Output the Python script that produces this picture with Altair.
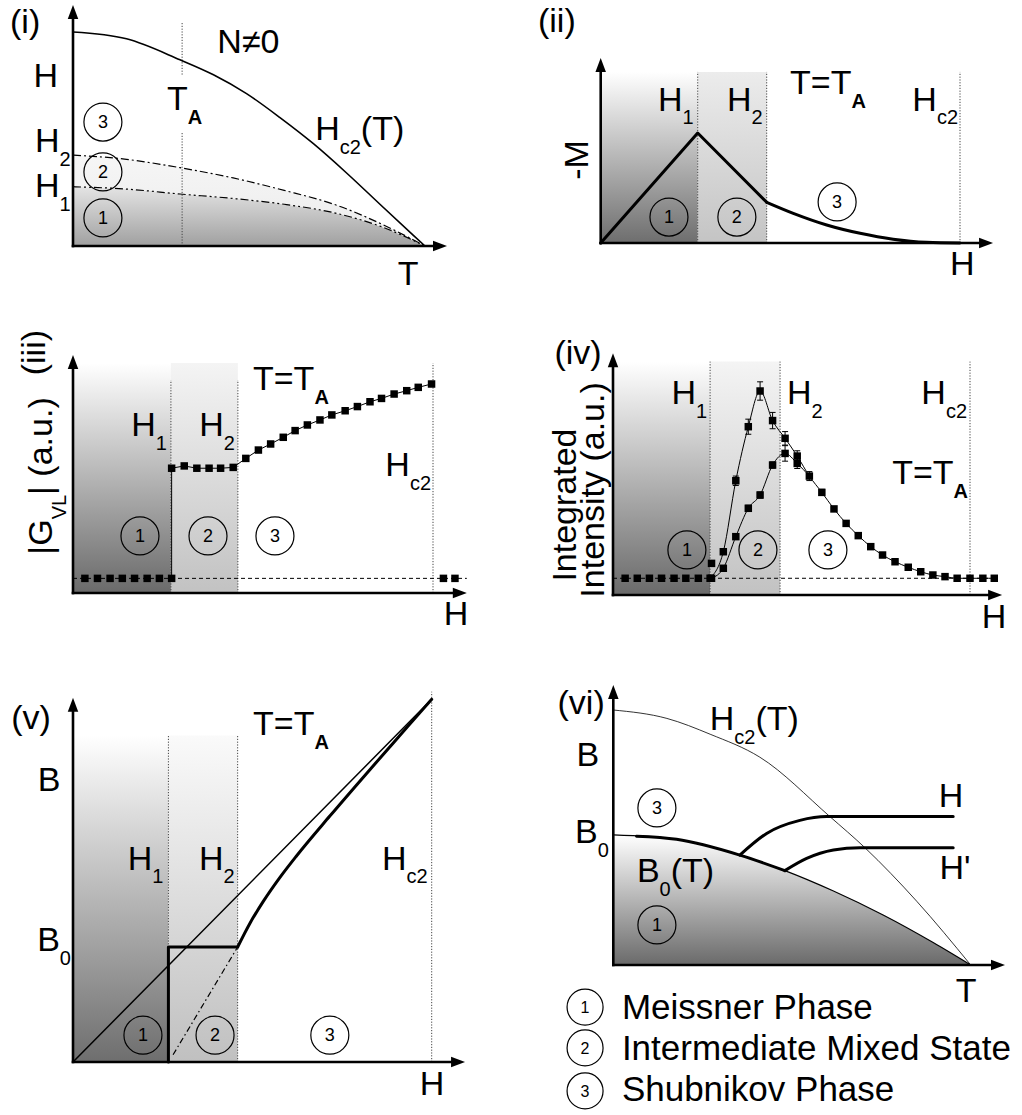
import altair as alt
import pandas as pd

FONT = "Liberation Sans"
BIG = 34      # annotation size
SUB = 20      # subscript size
NUM = 18      # digits inside the phase circles
INK = "black"
DOT = [1.2, 1.6]

# ---------------- (i) H-T diagram of a sample with N != 0 ----------------
T_I = [0.0, 0.152, 0.304, 0.455, 0.600, 0.750, 0.880, 1.0]
H1_I = [0.277, 0.266, 0.243, 0.222, 0.195, 0.152, 0.088, 0.0]
H2_I = [0.425, 0.405, 0.366, 0.318, 0.260, 0.190, 0.100, 0.0]
T_HC2_I = [0.0, 0.152, 0.304, 0.399, 0.493, 0.588, 0.683, 0.778, 0.872, 0.967, 1.0]
HC2_I = [1.0, 0.968, 0.870, 0.800, 0.712, 0.600, 0.478, 0.340, 0.195, 0.050, 0.0]
T_A = 0.31

# ---------------- (ii) magnetisation -M(H) at T = T_A ----------------
FIELDS_II = [0.270, 0.462, 1.0]          # H1, H2, Hc2
M_RAMP_H = [0.0, 0.270, 0.462]
M_RAMP = [0.0, 1.0, 0.37]
M_TAIL_H = [0.462, 0.536, 0.629, 0.722, 0.814, 0.907, 1.0]
M_TAIL = [0.37, 0.27, 0.164, 0.088, 0.034, 0.006, 0.0]

# ---------------- (iii) |G_VL|(H) at T = T_A ----------------
FIELDS_III = [0.272, 0.458, 1.0]
G_ZERO_H = [0.033, 0.068, 0.103, 0.137, 0.171, 0.206, 0.240, 0.274, 1.029, 1.061]
G_ZERO = 0.070
G_H = [0.274, 0.309, 0.344, 0.378, 0.410, 0.445, 0.480, 0.515, 0.549, 0.584, 0.617,
       0.651, 0.686, 0.719, 0.756, 0.790, 0.825, 0.857, 0.892, 0.927, 0.959, 0.996]
G_VL = [0.597, 0.608, 0.597, 0.597, 0.597, 0.601, 0.644, 0.684, 0.713, 0.745, 0.777,
        0.804, 0.828, 0.852, 0.872, 0.892, 0.915, 0.931, 0.952, 0.968, 0.984, 1.0]

# ---------------- (iv) integrated intensity at T = T_A ----------------
FIELDS_IV = [0.272, 0.468, 1.0]
I_ZERO_H = [0.034, 0.068, 0.102, 0.136, 0.171, 0.204, 0.239, 0.272]
I_ZERO = 0.082
IA_H = [0.276, 0.309, 0.344, 0.379, 0.412, 0.447, 0.482, 0.516, 0.550, 0.585, 0.619, 0.653,
        0.687, 0.722, 0.755, 0.790, 0.827, 0.862, 0.896, 0.930, 0.964, 1.0, 1.036, 1.068]
IA = [0.155, 0.212, 0.560, 0.825, 1.0, 0.855, 0.768, 0.681, 0.583, 0.503, 0.422, 0.351,
      0.291, 0.237, 0.196, 0.163, 0.136, 0.114, 0.098, 0.090, 0.082, 0.082, 0.082, 0.082]
IA_ERR = [0.0, 0.0, 0.023, 0.037, 0.045, 0.040, 0.033, 0.026, 0.022, 0.015, 0.0, 0.0,
          0.0, 0.0, 0.0, 0.0, 0.0, 0.0, 0.0, 0.0, 0.0, 0.0, 0.0, 0.0]
IB_H = [0.276, 0.309, 0.344, 0.379, 0.412, 0.447, 0.482, 0.516]
IB = [0.082, 0.131, 0.286, 0.425, 0.490, 0.637, 0.694, 0.645]
IB_ERR = [0.0, 0.0, 0.0, 0.015, 0.015, 0.015, 0.038, 0.025]

# ---------------- (v) B(H) at T = T_A ----------------
FIELDS_V = [0.266, 0.459, 1.0]
B0_V = 0.317
B_CURVE_H = [0.459, 0.493, 0.530, 0.577, 0.623, 0.716, 0.810, 0.902, 0.960, 1.0]
B_CURVE = [0.317, 0.382, 0.442, 0.509, 0.568, 0.678, 0.786, 0.890, 0.955, 1.0]

# ---------------- (vi) B-T diagram ----------------
T_HC2_VI = [0.0, 0.150, 0.271, 0.410, 0.606, 0.704, 0.849, 1.0]
HC2_VI = [1.0, 0.967, 0.905, 0.815, 0.582, 0.460, 0.250, 0.0]
T_B0_VI = [0.0, 0.177, 0.354, 0.480, 0.616, 0.755, 0.895, 1.0]
B0_VI = [0.510, 0.493, 0.431, 0.370, 0.290, 0.196, 0.088, 0.0]
EDGE_T = [0.065, 0.177, 0.354, 0.480]
EDGE_B = [0.505, 0.493, 0.431, 0.370]
PATH_H_T = [0.354, 0.429, 0.522, 0.597, 0.951]
PATH_H_B = [0.431, 0.516, 0.567, 0.582, 0.582]
PATH_HP_T = [0.480, 0.541, 0.616, 0.690, 0.951]
PATH_HP_B = [0.370, 0.418, 0.451, 0.460, 0.460]

LEGEND = ["Meissner Phase", "Intermediate Mixed State", "Shubnikov Phase"]

# advance widths (em) of the sans-serif face, used to chain subscripts
WIDTH = {"H": .722, "T": .611, "B": .667, "G": .778, "M": .833, "N": .722, "I": .278,
         "S": .667, "P": .667, "A": .667, "V": .667, "L": .556, "(": .333, ")": .333,
         "=": .584, "-": .333, "|": .26, " ": .278, ".": .278, "'": .191, "\u2260": .584,
         "i": .222, "l": .222, "t": .278, "r": .333, "f": .278, "m": .833, "s": .5,
         "c": .5, "k": .5, "v": .5, "x": .5, "y": .5}

UP = "M0,0L0.75,2L-0.75,2Z"
RIGHT = "M0,0L-2,-0.75L-2,0.75Z"


def text_width(s, size):
    return sum(WIDTH.get(ch, 0.556) for ch in s) * size


def grad(dark, light):
    return alt.LinearGradient(
        gradient="linear",
        stops=[alt.GradientStop(color=dark, offset=0), alt.GradientStop(color=light, offset=1)],
        x1=0, x2=0, y1=1, y2=0,
    )


class Panel:
    """One schematic plot: origin at (ox, oy) px inside a width x height box."""

    def __init__(self, width, height, ox, oy, sx, sy):
        self.width, self.height = width, height
        self.sx, self.sy = sx, sy
        self.xs = alt.Scale(domain=[-ox / sx, (width - ox) / sx], nice=False, zero=False)
        self.ys = alt.Scale(domain=[-(height - oy) / sy, oy / sy], nice=False, zero=False)
        self.layers = []

    def X(self, f):
        return alt.X(f, type="quantitative", scale=self.xs, axis=None)

    def Y(self, f):
        return alt.Y(f, type="quantitative", scale=self.ys, axis=None)

    def line(self, xs, ys, width=1.0, dash=None, interp="linear"):
        df = pd.DataFrame({"x": xs, "y": ys, "i": list(range(len(xs)))})
        kw = dict(color=INK, strokeWidth=width, interpolate=interp, strokeJoin="round",
                  strokeCap="round")
        if dash:
            kw["strokeDash"] = dash
            kw["strokeCap"] = "butt"
        self.layers.append(alt.Chart(df).mark_line(**kw).encode(
            x=self.X("x"), y=self.Y("y"), order=alt.Order("i:Q")))

    def segs(self, x, y, x2, y2, width=1.0, dash=None, color=INK, cap="butt"):
        df = pd.DataFrame({"x": x, "y": y, "x2": x2, "y2": y2})
        kw = dict(color=color, strokeWidth=width, strokeCap=cap)
        if dash:
            kw["strokeDash"] = dash
        self.layers.append(alt.Chart(df).mark_rule(**kw).encode(
            x=self.X("x"), y=self.Y("y"), x2="x2:Q", y2="y2:Q"))

    def dotted(self, xs, tops):
        self.segs(xs, [0.0] * len(xs), xs, tops, width=1.0, dash=DOT, color="#444444")

    def shade(self, x0, x1, y0, y1, dark, light):
        df = pd.DataFrame({"x": [x0], "x2": [x1], "y": [y0], "y2": [y1]})
        self.layers.append(alt.Chart(df).mark_rect(fill=grad(dark, light), strokeWidth=0).encode(
            x=self.X("x"), x2="x2:Q", y=self.Y("y"), y2="y2:Q"))

    def band(self, xs, lo, hi, dark, light, interp="monotone"):
        df = pd.DataFrame({"x": xs, "lo": lo, "hi": hi})
        self.layers.append(alt.Chart(df).mark_area(fill=grad(dark, light), interpolate=interp).encode(
            x=self.X("x"), y=self.Y("hi"), y2="lo:Q"))

    def squares(self, xs, ys, size=56):
        df = pd.DataFrame({"x": xs, "y": ys})
        self.layers.append(alt.Chart(df).mark_point(
            shape="square", filled=True, size=size, color=INK, opacity=1).encode(
            x=self.X("x"), y=self.Y("y")))

    def errorbars(self, xs, ys, errs):
        rows = [(x, y, e) for x, y, e in zip(xs, ys, errs) if e > 0]
        df = pd.DataFrame({"x": [r[0] for r in rows],
                           "lo": [r[1] - r[2] for r in rows],
                           "hi": [r[1] + r[2] for r in rows]})
        self.layers.append(alt.Chart(df).mark_rule(color=INK, strokeWidth=1).encode(
            x=self.X("x"), y=self.Y("lo"), y2="hi:Q"))
        for end in ("lo", "hi"):
            self.layers.append(alt.Chart(df).mark_tick(
                orient="horizontal", size=6, thickness=1, color=INK, opacity=1).encode(
                x=self.X("x"), y=self.Y(end)))

    def axes(self, x_tip, y_tip):
        self.segs([0.0, 0.0], [0.0, 0.0], [x_tip - 12 / self.sx, 0.0], [0.0, y_tip - 12 / self.sy],
                  width=2.6, cap="square")
        for shape, x, y in ((RIGHT, x_tip, 0.0), (UP, 0.0, y_tip)):
            df = pd.DataFrame({"x": [x], "y": [y]})
            self.layers.append(alt.Chart(df).mark_point(
                shape=shape, size=196, filled=True, color=INK, opacity=1, strokeWidth=0).encode(
                x=self.X("x"), y=self.Y("y")))

    def text(self, x, y, base, sub="", tail="", size=BIG, align="left", angle=0, dx=0,
             bold_sub=False):
        wb = text_width(base, size)
        ws = text_width(sub, SUB) * (1.08 if bold_sub else 1.0)
        wt = text_width(tail, size)
        total = wb + ws + wt
        start = dx + {"left": 0.0, "center": -total / 2, "right": -total}[align]
        drop = 0.40 * size + 0.30 * size - 0.30 * SUB
        parts = [(base, size, start, 0.0, "normal")]
        if sub:
            parts.append((sub, SUB, start + wb, drop, "bold" if bold_sub else "normal"))
        if tail:
            parts.append((tail, size, start + wb + ws, 0.0, "normal"))
        for t, sz, ddx, ddy, weight in parts:
            kw = dict(align="left", baseline="middle", dx=ddx, dy=ddy, font=FONT,
                      fontSize=sz, fontWeight=weight, color=INK)
            if angle:
                kw["angle"] = angle
            df = pd.DataFrame({"x": [x], "y": [y], "t": [t]})
            self.layers.append(alt.Chart(df).mark_text(**kw).encode(
                x=self.X("x"), y=self.Y("y"), text="t:N"))

    def rings(self, xs, ys, digits, diameter=38, fsize=NUM):
        df = pd.DataFrame({"x": xs, "y": ys, "t": digits})
        self.layers.append(alt.Chart(df).mark_point(
            shape="circle", size=diameter ** 2, filled=False, color=INK, strokeWidth=1.2,
            opacity=1).encode(x=self.X("x"), y=self.Y("y")))
        self.layers.append(alt.Chart(df).mark_text(
            font=FONT, fontSize=fsize, align="center", baseline="middle", dy=1, color=INK).encode(
            x=self.X("x"), y=self.Y("y"), text="t:N"))

    def chart(self):
        return alt.layer(*self.layers).properties(width=self.width, height=self.height)


# ---- (i) ----
p1 = Panel(511, 300, 73, 246, 352, 214)
p1.band(T_I, [0.0] * len(T_I), H1_I, "#a0a0a0", "#e4e4e4")
p1.band(T_I, H1_I, H2_I, "#ebebeb", "#f6f6f6")
p1.segs([T_A, T_A], [1.042, 0.528], [T_A, T_A], [0.799, 0.0], width=1.0, dash=DOT, color="#444444")
p1.line(T_I, H2_I, width=1.2, dash=[8, 3, 2, 3], interp="monotone")
p1.line(T_I, H1_I, width=1.2, dash=[8, 3, 2, 3, 2, 3], interp="monotone")
p1.line(T_HC2_I, HC2_I, width=1.6, interp="monotone")
p1.axes(1.0625, 1.126)
p1.text(-0.136, 1.042, "(i)", align="center")
p1.text(0.5, 0.949, "N\u22600", align="center")
p1.text(-0.077, 0.790, "H", align="center")
p1.text(-0.108, 0.486, "H", "2")
p1.text(-0.108, 0.277, "H", "1")
p1.text(0.267, 0.682, "T", "A", bold_sub=True)
p1.text(0.688, 0.542, "H", "c2", "(T)")
p1.text(0.952, -0.136, "T", align="center")
p1.rings([0.085] * 3, [0.579, 0.346, 0.131], ["3", "2", "1"])

# ---- (ii) ----
p2 = Panel(511, 300, 89.7, 243, 359.3, 110)
p2.shade(0.0, FIELDS_II[0], 0.0, 1.555, "#6e6e6e", "#ffffff")
p2.shade(FIELDS_II[0], FIELDS_II[1], 0.0, 1.555, "#c4c4c4", "#ececec")
p2.dotted(FIELDS_II, [1.555] * 3)
p2.line(M_RAMP_H, M_RAMP, width=3)
p2.line(M_TAIL_H, M_TAIL, width=3, interp="monotone")
p2.axes(1.092, 1.682)
p2.text(-0.122, 2.009, "(ii)", align="center")
p2.text(-0.063, 0.755, "-M", align="center", angle=270)
p2.text(FIELDS_II[0], 1.295, "H", "1", align="right", dx=-4)
p2.text(FIELDS_II[1], 1.295, "H", "2", align="right", dx=-4)
p2.text(FIELDS_II[2], 1.295, "H", "c2", align="right", dx=-2)
p2.text(0.527, 1.441, "T=T", "A", bold_sub=True)
p2.text(1.006, -0.200, "H", align="center")
p2.rings([0.190, 0.379, 0.658], [0.236, 0.236, 0.373], ["1", "2", "3"])

# ---- (iii) ----
p3 = Panel(511, 350, 73, 293, 360, 209)
p3.shade(0.0, FIELDS_III[0], 0.0, 1.10, "#6a6a6a", "#ffffff")
p3.shade(FIELDS_III[0], FIELDS_III[1], 0.0, 1.10, "#c2c2c2", "#f4f4f4")
p3.dotted(FIELDS_III, [1.019, 1.019, 1.10])
p3.segs([0.0], [G_ZERO], [1.094], [G_ZERO], width=1.0, dash=[4, 3])
p3.segs([G_H[0]], [G_ZERO], [G_H[0]], [G_VL[0]], width=1.0)
p3.line(G_H, G_VL, width=1.0)
p3.squares(G_ZERO_H, [G_ZERO] * len(G_ZERO_H))
p3.squares(G_H, G_VL)
p3.axes(1.094, 1.139)
p3.text(-0.106, 1.150, "(iii)", align="center", angle=270)
p3.text(-0.086, 0.560, "|G", "VL", "| (a.u.)", align="center", angle=270)
p3.text(FIELDS_III[0], 0.797, "H", "1", align="right", dx=-4)
p3.text(FIELDS_III[1], 0.797, "H", "2", align="right", dx=-3)
p3.text(0.5, 1.017, "T=T", "A", bold_sub=True)
p3.text(FIELDS_III[2], 0.608, "H", "c2", align="right", dx=-2)
p3.text(1.064, -0.105, "H", align="center")
p3.rings([0.186, 0.375, 0.561], [0.273] * 3, ["1", "2", "3"])

# ---- (iv) ----
p4 = Panel(511, 350, 102, 295, 357, 204)
p4.shade(0.0, FIELDS_IV[0], 0.0, 1.144, "#6a6a6a", "#ffffff")
p4.shade(FIELDS_IV[0], FIELDS_IV[1], 0.0, 1.144, "#c2c2c2", "#f4f4f4")
p4.dotted(FIELDS_IV, [1.144] * 3)
p4.segs([0.0], [I_ZERO], [1.078], [I_ZERO], width=1.0, dash=[4, 3])
p4.line([I_ZERO_H[-1]] + IA_H[1:], [I_ZERO] + IA[1:], width=1.0, interp="monotone")
p4.line(IB_H + [IA_H[8]], IB + [IA[8]], width=1.0, interp="monotone")
p4.errorbars(IA_H, IA, IA_ERR)
p4.errorbars(IB_H, IB, IB_ERR)
p4.squares(I_ZERO_H, [I_ZERO] * len(I_ZERO_H))
p4.squares(IA_H, IA)
p4.squares(IB_H, IB)
p4.axes(1.090, 1.185)
p4.text(-0.098, 1.181, "(iv)", align="center")
p4.text(-0.132, 0.441, "Integrated", align="center", angle=270)
p4.text(-0.053, 0.515, "Intensity (a.u.)", align="center", angle=270)
p4.text(FIELDS_IV[0], 0.985, "H", "1", align="right", dx=-3)
p4.text(FIELDS_IV[1], 0.985, "H", "2", align="left", dx=7)
p4.text(FIELDS_IV[2], 0.985, "H", "c2", align="right", dx=-3)
p4.text(FIELDS_IV[2], 0.591, "T=T", "A", align="right", dx=-2, bold_sub=True)
p4.text(1.067, -0.113, "H", align="center")
p4.rings([0.207, 0.406, 0.602], [0.221] * 3, ["1", "2", "3"])

# ---- (v) ----
p5 = Panel(511, 465, 73, 412, 358.7, 362.7)
p5.shade(0.0, FIELDS_V[0], 0.0, 0.90, "#6e6e6e", "#ffffff")
p5.shade(FIELDS_V[0], FIELDS_V[1], 0.0, 0.90, "#c0c0c0", "#fafafa")
p5.dotted(FIELDS_V, [0.901, 0.901, 1.021])
p5.line([0.0, 1.0], [0.0, 1.0], width=1.5)
p5.segs([0.279], [0.02], [FIELDS_V[1]], [B0_V], width=1.2, dash=[6, 3, 1.5, 3])
p5.line([FIELDS_V[0], FIELDS_V[0], FIELDS_V[1]], [0.0, B0_V, B0_V], width=3)
p5.line(B_CURVE_H, B_CURVE, width=3, interp="monotone")
p5.axes(1.093, 1.004)
p5.text(-0.117, 0.946, "(v)", align="center")
p5.text(-0.067, 0.775, "B", align="center")
p5.text(-0.100, 0.334, "B", "0")
p5.text(FIELDS_V[0], 0.558, "H", "1", align="right", dx=-5)
p5.text(FIELDS_V[1], 0.558, "H", "2", align="right", dx=-3)
p5.text(FIELDS_V[2], 0.558, "H", "c2", align="right", dx=-4)
p5.text(0.502, 0.929, "T=T", "A", bold_sub=True)
p5.text(1.001, -0.063, "H", align="center")
p5.rings([0.195, 0.396, 0.716], [0.074] * 3, ["1", "2", "3"])

# ---- (vi) ----
p6 = Panel(511, 465, 102.3, 315, 357.4, 255)
p6.band(T_B0_VI, [0.0] * len(T_B0_VI), B0_VI, "#6a6a6a", "#ffffff")
p6.line(T_B0_VI, B0_VI, width=1.2, interp="monotone")
p6.line(T_HC2_VI, HC2_VI, width=0.8, interp="monotone")
p6.line(EDGE_T, EDGE_B, width=3, interp="monotone")
p6.line(PATH_H_T, PATH_H_B, width=3, interp="monotone")
p6.line(PATH_HP_T, PATH_HP_B, width=3, interp="monotone")
p6.axes(1.096, 1.098)
p6.text(-0.090, 1.024, "(vi)", align="center")
p6.text(0.270, 0.960, "H", "c2", "(T)")
p6.text(-0.071, 0.820, "B", align="center")
p6.text(-0.107, 0.518, "B", "0")
p6.text(0.066, 0.363, "B", "0", "(T)")
p6.text(0.945, 0.659, "H", align="center")
p6.text(0.956, 0.376, "H'", align="center")
p6.text(0.987, -0.106, "T", align="center")
p6.rings([0.122, 0.122], [0.616, 0.157], ["3", "1"])
p6.rings([-0.079] * 3, [-0.165, -0.325, -0.494], ["1", "2", "3"], diameter=36, fsize=16)
for name, yy in zip(LEGEND, [-0.167, -0.329, -0.490]):
    p6.text(0.024, yy, name, size=35)

# six panels on a two-column grid; each cell keeps exactly its own box
chart = (
    alt.concat(p1.chart(), p2.chart(), p3.chart(), p4.chart(), p5.chart(), p6.chart(),
               columns=2, spacing=0, bounds="flush")
    .properties(padding=0, background="white")
    .configure_view(strokeWidth=0)
)

chart.save("out.html", embed_options={"renderer": "svg", "actions": False})
